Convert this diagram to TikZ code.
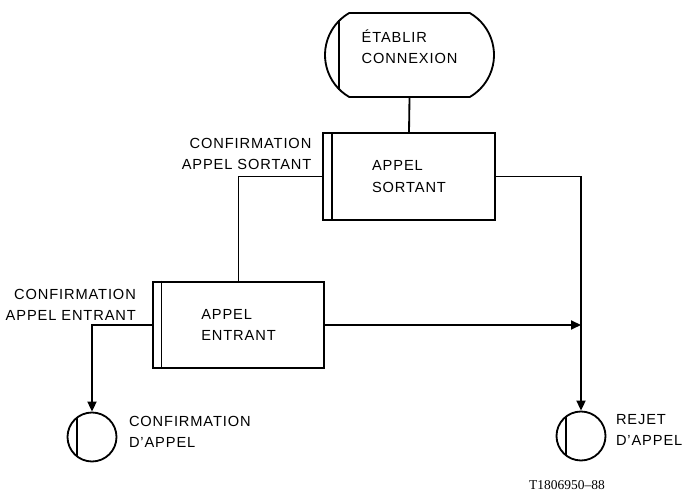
\documentclass[tikz,border=0pt]{standalone}
\usepackage{fontspec}
\setmainfont{Liberation Sans}[LetterSpace=6]
\newfontfamily\refnofont{Liberation Serif}
\usetikzlibrary{arrows.meta,shapes.misc}

\begin{document}
\begin{tikzpicture}[x=0.3mm, y=0.3mm, line width=0.55mm,
    font=\fontsize{12.5pt}{18pt}\selectfont,
    proc/.style={draw, rectangle, minimum width=51.5mm, minimum height=26mm, align=left, inner sep=0pt},
    term/.style={draw, rounded rectangle, rounded rectangle arc length=120, minimum width=50.7mm, minimum height=25.2mm, inner sep=0pt},
    endstate/.style={draw, circle, minimum size=14.7mm, inner sep=0pt},
    lbl/.style={inner sep=0pt},
    flow/.style={-{Triangle[length=3mm,width=2.7mm]}}]

    \useasboundingbox (0,0) rectangle (682,497);

    % Boxes
    \node[term] (start) at (409.5,442) {};
    \node[lbl, align=left] (starttext) at ([yshift=2.4mm]start.center) {ÉTABLIR\\CONNEXION};
    \node[proc] (sortant) at (409,320.5) {APPEL\\SORTANT};
    \node[proc] (entrant) at (238.5,172) {APPEL\\ENTRANT};
    \node[endstate] (confirm) at (92,60) {};
    \node[endstate] (rejet) at (581,61) {};

    % Inner bars
    \draw ([xshift=4.5mm]start.west) ++(0,-35) -- ++(0,70);
    \foreach \n in {sortant, entrant}
        \draw ([xshift=2.9mm]\n.north west) -- ([xshift=2.9mm]\n.south west);
    \foreach \n in {confirm, rejet}
        \draw ([xshift=-4.5mm]\n.center) ++(0,-19.4) -- ++(0,38.8);

    % Labels
    \node[lbl, align=right, anchor=north east] (sortantlbl) at ([xshift=-3mm,yshift=-1.5mm]sortant.north west) {CONFIRMATION\\APPEL SORTANT};
    \node[lbl, align=right, anchor=north east] (entrantlbl) at ([xshift=-4.5mm,yshift=-2.2mm]entrant.north west) {CONFIRMATION\\APPEL ENTRANT};
    \node[lbl, align=left, anchor=west] (confirmlbl) at ([xshift=3.2mm,yshift=1.4mm]confirm.east) {CONFIRMATION\\D'APPEL};
    \node[lbl, align=left, anchor=west] (rejetlbl) at ([xshift=2.6mm,yshift=1.8mm]rejet.east) {REJET\\D'APPEL};
    \node[lbl, font=\refnofont\fontsize{11.5pt}{13pt}\selectfont] (refno) at (567,12) {T1806950–88};

    % Connections
    \draw (start.south) -- (sortant.north);
    \draw (sortant.west) -| (entrant.north);
    \draw[flow] (sortant.east) -| (rejet.north);
    \draw[flow] (entrant.west) -| (confirm.north);
    \draw[flow] (entrant.east) -- (entrant.east -| rejet.north);
\end{tikzpicture}
\end{document}
